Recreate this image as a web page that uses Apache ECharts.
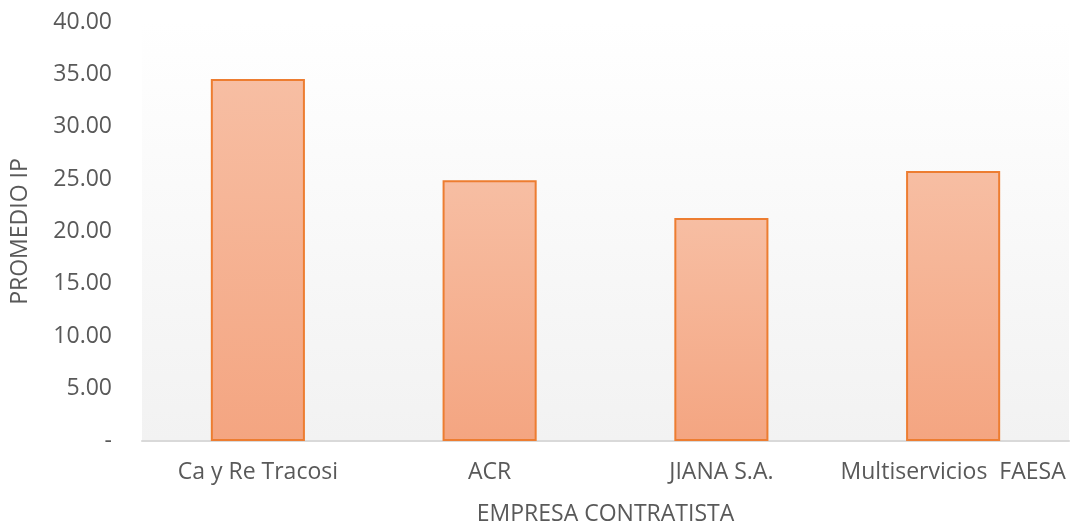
<!DOCTYPE html>
<html>
<head>
<meta charset="utf-8">
<script src="https://cdn.jsdelivr.net/npm/echarts@6/dist/echarts.min.js"></script>
<style>
  html, body { margin: 0; padding: 0; background: #fff; }
  #chart { width: 1070px; height: 524px; }
</style>
</head>
<body>
<div id="chart"></div>
<script>
const categories = ['Ca y Re Tracosi', 'ACR', 'JIANA S.A.', 'Multiservicios  FAESA']
const promedioIP = [34.56, 24.9, 21.29, 25.78]
const yTicks = { min: 0, max: 40, interval: 5 }

const chart = echarts.init(document.getElementById('chart'))
const font = '"Open Sans", "Liberation Sans", sans-serif'

chart.setOption({
  animation: false,
  grid: {
    left: 142, right: 1, top: 22, bottom: 83,
    outerBoundsMode: 'none',
    show: true, borderWidth: 0,
    backgroundColor: new echarts.graphic.LinearGradient(0, 0, 0, 1, [
      { offset: 0, color: '#ffffff' }, { offset: 1, color: '#f2f2f2' }
    ])
  },
  xAxis: {
    type: 'category',
    data: categories,
    name: 'EMPRESA CONTRATISTA',
    nameLocation: 'middle',
    nameGap: 62,
    nameTextStyle: { fontFamily: font, fontSize: 23, color: '#595959' },
    axisLine: { lineStyle: { color: '#d9d9d9', width: 2 } },
    axisTick: { show: false },
    axisLabel: { fontFamily: font, fontSize: 23, color: '#595959', margin: 20, interval: 0 }
  },
  yAxis: {
    type: 'value',
    min: yTicks.min, max: yTicks.max, interval: yTicks.interval,
    name: 'PROMEDIO IP',
    nameLocation: 'middle',
    nameGap: 110,
    nameTextStyle: { fontFamily: font, fontSize: 23, color: '#595959' },
    axisLine: { show: false },
    axisTick: { show: false },
    splitLine: { show: false },
    axisLabel: {
      fontFamily: font, fontSize: 23, color: '#595959', margin: 30,
      formatter: v => v === 0 ? '-' : v.toFixed(2)
    }
  },
  series: [{
    type: 'bar',
    data: promedioIP,
    barWidth: '40.6%',
    itemStyle: {
      color: new echarts.graphic.LinearGradient(0, 0, 0, 1, [
        { offset: 0, color: '#f7bea3' }, { offset: 1, color: '#f4a581' }
      ]),
      borderColor: '#ed7d31',
      borderWidth: 2
    }
  }]
})
</script>
</body>
</html>
